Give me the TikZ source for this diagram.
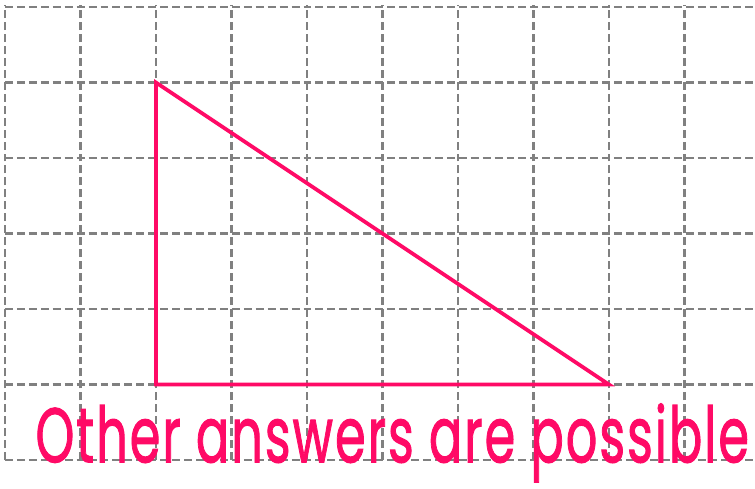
\documentclass[tikz,border=0pt]{standalone}
\usepackage{fontspec}
\usepackage{graphicx}
\newfontfamily\handfont[LetterSpace=4, FakeBold=1.5]{Poppins}
\definecolor{answerpink}{HTML}{FF0A66}
\definecolor{gridgray}{HTML}{808080}

\begin{document}
\begin{tikzpicture}[x=1cm, y=1cm]
    \useasboundingbox (-0.066,-0.371) rectangle (9.934,6.093);

    % dashed square grid
    \foreach \i in {0,...,9}
        \draw[gridgray, line width=0.95pt, dash pattern=on 3pt off 1.5pt] (\i,0) -- (\i,6.03);
    \foreach \j in {0,...,6}
        \draw[gridgray, line width=0.95pt, dash pattern=on 3pt off 1.5pt] (0,\j) -- (9.934,\j);

    \coordinate (A) at (2,5);
    \coordinate (B) at (2,1);
    \coordinate (C) at (8,1);

    \draw[answerpink, line width=1.4pt, line join=miter] (A) -- (B) -- (C) -- cycle;

    \node[answerpink, anchor=base, inner sep=0pt, font=\handfont] (note) at (5.13,-0.03)
        {\resizebox{9.45cm}{0.78cm}{Other answers are possible}};
\end{tikzpicture}
\end{document}
